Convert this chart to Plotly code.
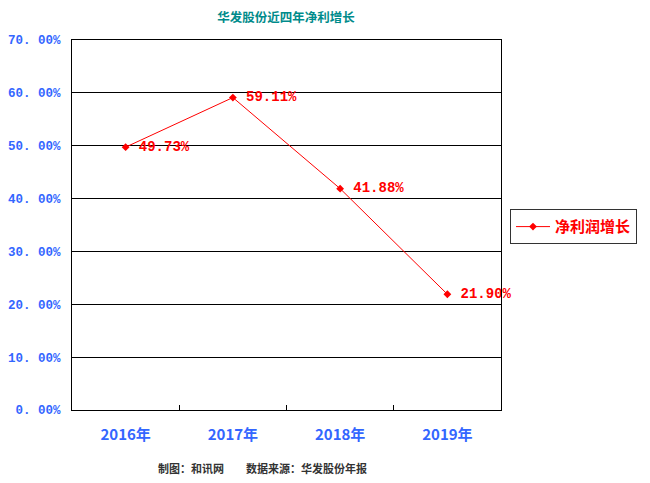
import plotly.graph_objects as go

years = ['2016年', '2017年', '2018年', '2019年']
growth = [49.73, 59.11, 41.88, 21.90]
y_ticks = [0, 10, 20, 30, 40, 50, 60, 70]
y_tick_labels = ['%d. 00%%' % v for v in y_ticks]

_RED = '#ff0000'
_BLUE = '#3366ff'
_CJK = 'Noto Sans CJK SC'

fig = go.Figure()
fig.add_trace(go.Scatter(
    x=years,
    y=growth,
    mode='lines+markers+text',
    line={'color': _RED, 'width': 1},
    marker={'symbol': 'diamond', 'size': 6, 'color': _RED},
    text=['<b> %.2f%%</b>' % v for v in growth],
    textposition='middle right',
    textfont={'family': 'Liberation Mono', 'size': 14, 'color': _RED},
    cliponaxis=False,
    name='<b>净利润增长</b>',
))

# page body has an 8px default margin, so the figure is a bit smaller
fig.update_layout(
    width=642, height=475,
    paper_bgcolor='white', plot_bgcolor='white',
    margin=dict(l=64, r=149, t=32, b=73),
    title=dict(
        text='<b>华发股份近四年净利增长</b>',
        x=0.433, xanchor='center', y=0.99, yanchor='top',
        font={'family': _CJK, 'size': 12.5, 'color': '#008b8b'},
    ),
    xaxis=dict(
        type='category', range=[-0.5, 3.5], automargin=False,
        tickvals=years, ticktext=['<b>%s</b>' % y for y in years],
        showgrid=False, ticks='inside', tickson='boundaries',
        ticklen=5, tickcolor='black',
        showline=True, linecolor='black', linewidth=1, mirror=True,
        tickfont={'family': _CJK, 'size': 15, 'color': _BLUE},
        ticklabelstandoff=11,
    ),
    yaxis=dict(
        range=[0, 70], automargin=False,
        tickvals=y_ticks, ticktext=['<b>%s</b>' % t for t in y_tick_labels],
        showgrid=True, gridcolor='black', gridwidth=1,
        showline=True, linecolor='black', linewidth=1, mirror=True,
        ticks='', zeroline=False,
        tickfont={'family': 'Liberation Mono', 'size': 12.5, 'color': _BLUE},
        ticklabelstandoff=8,
    ),
    showlegend=True,
    legend=dict(
        x=1.021, xanchor='left', y=0.495, yanchor='middle',
        bordercolor='#333333', borderwidth=1, itemwidth=34,
        font={'family': _CJK, 'size': 15, 'color': _RED},
    ),
    annotations=[dict(
        text='<b>制图：和讯网　　数据来源：华发股份年报</b>',
        x=0.443, y=-0.185, xref='paper', yref='paper',
        showarrow=False, font={'family': _CJK, 'size': 11, 'color': '#333333'},
    )],
)

fig.write_html('out.html')
